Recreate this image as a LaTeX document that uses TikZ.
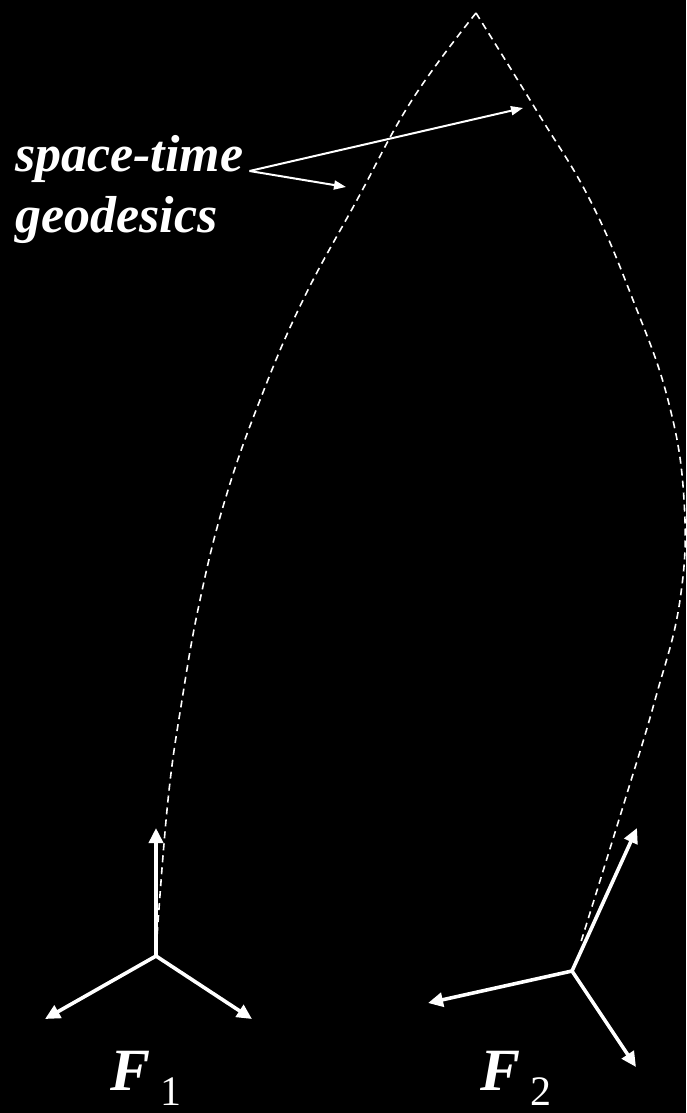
\documentclass[tikz,border=0pt]{standalone}
\usepackage{fontspec}
\setmainfont{Liberation Serif}
\usetikzlibrary{arrows.meta}
\def\fbig{\fontsize{60}{60}\selectfont}
\def\fsub{\fontsize{42}{42}\selectfont}
\begin{document}
\begin{tikzpicture}[x=1pt, y=-1pt, >={Triangle[length=15pt,width=14pt]},
    geod/.style={white, line width=1.6pt, dash pattern=on 7pt off 5pt},
    frame/.style={white, line width=3.6pt, ->},
    note/.style={white, line width=2pt, -{Triangle[length=12pt,width=9pt]}},
    lbl/.style={white, inner sep=0pt, anchor=base west,
                font=\fontsize{52}{60}\selectfont\bfseries\itshape}]

% background and page
\fill[black] (0,0) rectangle (686,1113);
\useasboundingbox (0,0) rectangle (686,1113);

% =================== the two geodesics ===================
\coordinate (apex) at (476,13);
\draw[geod] plot[smooth, tension=0.7] coordinates {
  (apex) (412,100) (357,200) (303,300) (260,400) (225,500)
  (200,600) (182,700) (168,800) (157,937)};
\draw[geod] plot[smooth, tension=0.7] coordinates {
  (apex) (538,113) (590,200) (633,300) (668,400) (684,500)
  (680,600) (655,700) (625,800) (580,945)};

% =================== frame F1 ===================
\coordinate (o1) at (156,956);
\coordinate (a1) at (156,828);
\coordinate (b1) at (45,1019);
\coordinate (c1) at (252,1019);
\draw[frame] (o1) -- (a1);
\draw[frame] (o1) -- (b1);
\draw[frame] (o1) -- (c1);
\node[white, inner sep=0pt, anchor=base west] (f1) at (110,1090)
  {\fbig\textbf{\textit{F}}\,\raisebox{-15pt}{\fsub 1}};

% =================== frame F2 ===================
\coordinate (o2) at (572,971);
\coordinate (a2) at (637,828);
\coordinate (b2) at (428,1003);
\coordinate (c2) at (636,1067);
\draw[frame] (o2) -- (a2);
\draw[frame] (o2) -- (b2);
\draw[frame] (o2) -- (c2);
\node[white, inner sep=0pt, anchor=base west] (f2) at (480,1090)
  {\fbig\textbf{\textit{F}}\,\raisebox{-15pt}{\fsub 2}};

% =================== label ===================
\node[lbl] (sp) at (15,171) {space-time};
\node[lbl] (geo) at (15,232) {geodesics};
\coordinate (fork) at ([xshift=6pt]sp.base east);
\coordinate (tipR) at (523,108);
\coordinate (tipL) at (346,187);
\draw[note] (fork) -- (tipR);
\draw[note] (fork) -- (tipL);

\end{tikzpicture}
\end{document}
